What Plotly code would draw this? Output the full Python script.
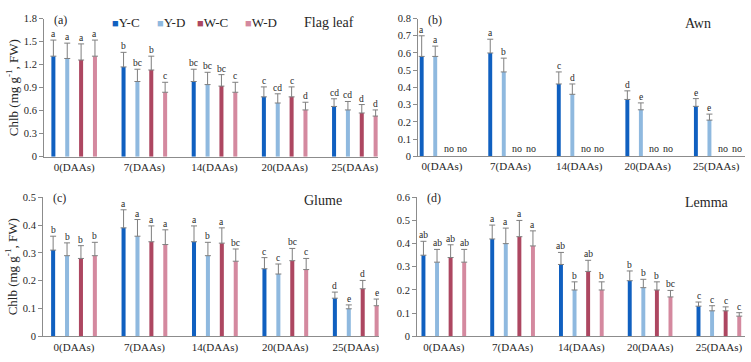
import plotly.graph_objects as go

categories = ["0(DAAs)", "7(DAAs)", "14(DAAs)", "20(DAAs)", "25(DAAs)"]
series_names = ["Y-C", "Y-D", "W-C", "W-D"]
colors = ["#1060c0", "#8fb9df", "#ad4761", "#d4899f"]

# Panel (a) Flag leaf
flag_mean = {
    "Y-C": [1.31, 1.17, 0.98, 0.78, 0.655],
    "Y-D": [1.28, 0.98, 0.94, 0.70, 0.61],
    "W-C": [1.26, 1.13, 0.92, 0.78, 0.57],
    "W-D": [1.31, 0.84, 0.84, 0.61, 0.53],
}
flag_err = {
    "Y-C": [0.21, 0.19, 0.16, 0.13, 0.10],
    "Y-D": [0.20, 0.16, 0.16, 0.12, 0.11],
    "W-C": [0.21, 0.18, 0.15, 0.13, 0.11],
    "W-D": [0.21, 0.13, 0.13, 0.10, 0.08],
}
flag_lab = {
    "Y-C": ["a", "b", "bc", "c", "cd"],
    "Y-D": ["a", "bc", "bc", "cd", "cd"],
    "W-C": ["a", "b", "bc", "c", "d"],
    "W-D": ["a", "c", "c", "d", "d"],
}

# Panel (b) Awn (W-C / W-D not determined: "no")
awn_mean = {
    "Y-C": [0.58, 0.60, 0.42, 0.33, 0.29],
    "Y-D": [0.58, 0.49, 0.36, 0.27, 0.21],
    "W-C": [None, None, None, None, None],
    "W-D": [None, None, None, None, None],
}
awn_err = {
    "Y-C": [0.12, 0.08, 0.07, 0.05, 0.045],
    "Y-D": [0.06, 0.08, 0.06, 0.04, 0.035],
    "W-C": [0, 0, 0, 0, 0],
    "W-D": [0, 0, 0, 0, 0],
}
awn_lab = {
    "Y-C": ["a", "a", "c", "d", "e"],
    "Y-D": ["a", "b", "d", "e", "e"],
    "W-C": ["no", "no", "no", "no", "no"],
    "W-D": ["no", "no", "no", "no", "no"],
}

# Panel (c) Glume
glume_mean = {
    "Y-C": [0.31, 0.39, 0.34, 0.243, 0.137],
    "Y-D": [0.29, 0.36, 0.29, 0.224, 0.099],
    "W-C": [0.28, 0.34, 0.335, 0.272, 0.171],
    "W-D": [0.29, 0.33, 0.27, 0.24, 0.11],
}
glume_err = {
    "Y-C": [0.05, 0.065, 0.057, 0.04, 0.022],
    "Y-D": [0.046, 0.06, 0.048, 0.036, 0.014],
    "W-C": [0.046, 0.057, 0.055, 0.044, 0.03],
    "W-D": [0.048, 0.053, 0.044, 0.04, 0.024],
}
glume_lab = {
    "Y-C": ["b", "a", "a", "c", "d"],
    "Y-D": ["b", "a", "b", "c", "e"],
    "W-C": ["b", "a", "a", "bc", "d"],
    "W-D": ["b", "a", "bc", "c", "e"],
}

# Panel (d) Lemma
lemma_mean = {
    "Y-C": [0.35, 0.42, 0.31, 0.24, 0.13],
    "Y-D": [0.32, 0.40, 0.20, 0.21, 0.11],
    "W-C": [0.34, 0.43, 0.28, 0.20, 0.11],
    "W-D": [0.32, 0.39, 0.20, 0.17, 0.087],
}
lemma_err = {
    "Y-C": [0.06, 0.06, 0.052, 0.042, 0.018],
    "Y-D": [0.055, 0.067, 0.035, 0.036, 0.022],
    "W-C": [0.055, 0.07, 0.048, 0.035, 0.017],
    "W-D": [0.055, 0.065, 0.035, 0.028, 0.015],
}
lemma_lab = {
    "Y-C": ["ab", "a", "ab", "b", "c"],
    "Y-D": ["ab", "a", "b", "b", "c"],
    "W-C": ["ab", "a", "ab", "b", "c"],
    "W-D": ["ab", "a", "b", "bc", "c"],
}

FONT = "Liberation Serif"
TXT = "#262626"
AXC = "#8c8c8c"
W, H = 751, 362
BARGAP = 0.21
BARGROUPGAP = 0.71

panels = [
    dict(mean=flag_mean, err=flag_err, lab=flag_lab, title="Flag leaf", tag="(a)",
         xdom=[44, 378], ydom=[14, 156.5], xr=[-0.43, 4.33], yr=[0, 1.8], dtick=0.3,
         ytitle=True, title_xy=(302, 18)),
    dict(mean=awn_mean, err=awn_err, lab=awn_lab, title="Awn", tag="(b)",
         xdom=[418, 745], ydom=[14, 156], xr=[-0.35, 4.42], yr=[0, 0.8], dtick=0.1,
         ytitle=False, title_xy=(683, 19)),
    dict(mean=glume_mean, err=glume_err, lab=glume_lab, title="Glume", tag="(c)",
         xdom=[43, 379], ydom=[198.3, 341.7], xr=[-0.44, 4.33], yr=[0, 0.5], dtick=0.1,
         ytitle=True, title_xy=(302, 202)),
    dict(mean=lemma_mean, err=lemma_err, lab=lemma_lab, title="Lemma", tag="(d)",
         xdom=[417, 745], ydom=[198.3, 341.7], xr=[-0.39, 4.38], yr=[0, 0.6], dtick=0.1,
         ytitle=False, title_xy=(683, 204)),
]

# legend entry left positions (px) in panel (a)
legend_x = [110, 155, 195, 243]
legend_y = 18

fig = go.Figure()
annotations = []
layout = {}
slot = (1 - BARGAP) / len(series_names)

for p_i, p in enumerate(panels):
    k = "" if p_i == 0 else str(p_i + 1)
    xa, ya = "x" + k, "y" + k
    for s_i, s in enumerate(series_names):
        fig.add_trace(go.Bar(
            x=categories, y=p["mean"][s], name=s,
            marker=dict(color=colors[s_i], line=dict(width=0)),
            error_y=dict(type="data", symmetric=False, array=p["err"][s], arrayminus=[],
                         color="#7f7f7f", thickness=1, width=3,
                         visible=any(v for v in p["err"][s])),
            xaxis=xa, yaxis=ya, showlegend=False, offsetgroup=s,
        ))
        for c_i in range(len(categories)):
            m = p["mean"][s][c_i]
            top = (m or 0) + p["err"][s][c_i]
            xpos = c_i + (s_i - 1.5) * slot
            is_no = p["lab"][s][c_i] == "no"
            annotations.append(dict(
                x=xpos, y=top, xref=xa, yref=ya, text=p["lab"][s][c_i],
                showarrow=False, yanchor="bottom", yshift=(0 if is_no else -1),
                font=dict(family=FONT, size=(10 if is_no else 9.5), color=TXT),
            ))
    x0, x1 = p["xdom"]
    y0, y1 = p["ydom"]
    layout["xaxis" + k] = dict(
        domain=[x0 / W, x1 / W], anchor=ya, range=p["xr"], type="category",
        showline=True, linecolor=AXC, linewidth=1, ticks="", showgrid=False,
        tickfont=dict(family=FONT, size=11, color=TXT), fixedrange=True,
    )
    ydict = dict(
        domain=[1 - y1 / H, 1 - y0 / H], anchor=xa, range=p["yr"], dtick=p["dtick"],
        showline=True, linecolor=AXC, linewidth=1, ticks="outside", ticklen=4,
        tickcolor=AXC, showgrid=False, zeroline=False,
        tickfont=dict(family=FONT, size=10.5, color=TXT),
    )
    if p["ytitle"]:
        ydict["title"] = dict(text="Chlb (mg g<sup>-1</sup>, FW)",
                              font=dict(family=FONT, size=13, color=TXT), standoff=2)
    layout["yaxis" + k] = ydict
    annotations.append(dict(x=(x0 + 8) / W, y=1 - (y0 + 1) / H, xref="paper", yref="paper",
                            text=p["tag"], showarrow=False, xanchor="left", yanchor="middle",
                            font=dict(family=FONT, size=12, color=TXT)))
    tx, ty = p["title_xy"]
    annotations.append(dict(x=tx / W, y=1 - ty / H, xref="paper", yref="paper",
                            text=p["title"], showarrow=False, xanchor="left", yanchor="middle",
                            font=dict(family=FONT, size=14, color=TXT)))

# legend (panel a)
for s_i, s in enumerate(series_names):
    annotations.append(dict(
        x=legend_x[s_i] / W, y=1 - legend_y / H, xref="paper", yref="paper",
        text=f'<span style="color:{colors[s_i]};font-size:11px">■</span>{s}',
        showarrow=False, xanchor="left", yanchor="middle",
        font=dict(family=FONT, size=13, color=TXT),
    ))

fig.update_layout(
    width=W, height=H, margin=dict(l=0, r=0, t=0, b=0),
    paper_bgcolor="white", plot_bgcolor="white",
    barmode="group", bargap=BARGAP, bargroupgap=BARGROUPGAP,
    annotations=annotations, showlegend=False,
    **layout,
)

fig.write_html("out.html")
